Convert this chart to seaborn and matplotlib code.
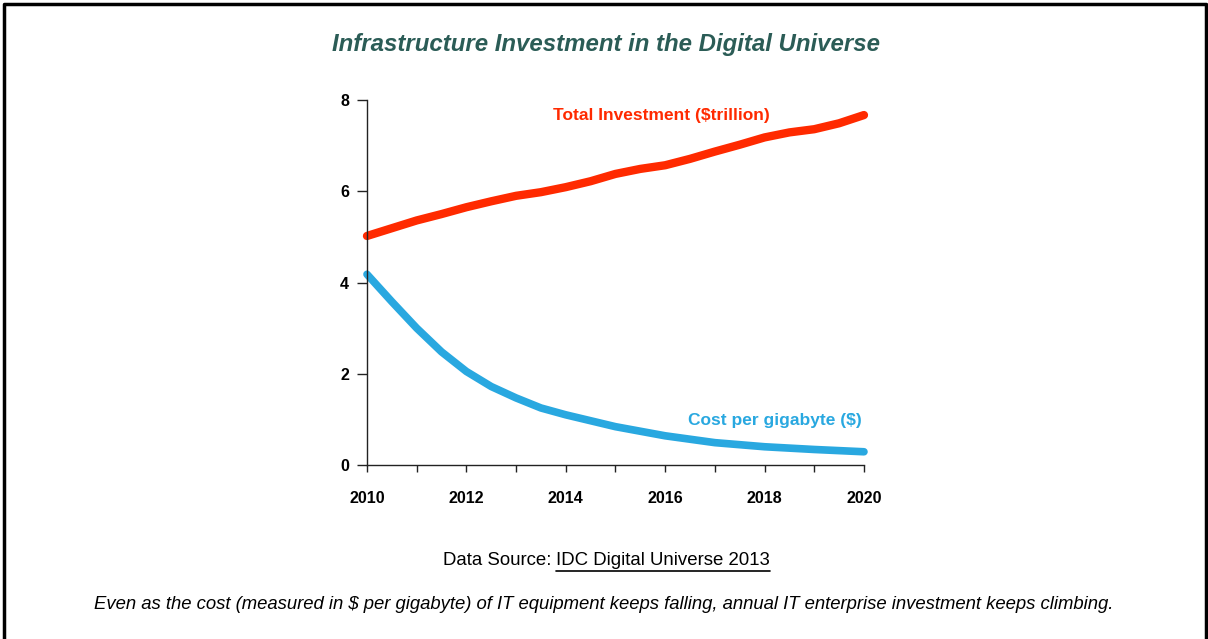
import numpy as np
import pandas as pd
import matplotlib.pyplot as plt
import seaborn as sns

years_total = [2010, 2010.5, 2011, 2011.5, 2012, 2012.5, 2013, 2013.5, 2014, 2014.5, 2015,
               2015.5, 2016, 2016.5, 2017, 2017.5, 2018, 2018.5, 2019, 2019.5, 2020]
total_investment = [5.02, 5.19, 5.36, 5.50, 5.65, 5.78, 5.90, 5.98, 6.09, 6.22, 6.38,
                    6.49, 6.57, 6.71, 6.87, 7.02, 7.18, 7.29, 7.36, 7.49, 7.67]

years_cost = [2010, 2010.5, 2011, 2011.5, 2012, 2012.5, 2013, 2013.5, 2014,
              2015, 2016, 2017, 2018, 2019, 2020]
cost_per_gb = [4.18, 3.58, 3.00, 2.48, 2.05, 1.72, 1.47, 1.25, 1.10,
               0.84, 0.64, 0.49, 0.40, 0.34, 0.29]

red = '#ff2a00'
blue = '#29a8e0'
title_color = '#2b5c56'

sns.set_style('white')
plt.rcParams['font.family'] = ['Liberation Sans', 'DejaVu Sans']
plt.rcParams['text.color'] = 'black'

fig = plt.figure(figsize=(12.08, 6.39), dpi=100)
ax = fig.add_axes([0.3038, 0.2723, 0.4114, 0.5712])

d_total = pd.DataFrame({'year': years_total, 'value': total_investment})
d_cost = pd.DataFrame({'year': years_cost, 'value': cost_per_gb})

sns.lineplot(data=d_total, x='year', y='value', ax=ax, color=red, linewidth=6,
             solid_capstyle='round', solid_joinstyle='round', clip_on=False)
sns.lineplot(data=d_cost, x='year', y='value', ax=ax, color=blue, linewidth=5.5,
             solid_capstyle='round', solid_joinstyle='round', clip_on=False)

ax.set_xlim(2010, 2020)
ax.set_ylim(0, 8)
ax.set_xticks(range(2010, 2021))
ax.set_xticklabels([str(y) if y % 2 == 0 else '' for y in range(2010, 2021)])
ax.set_yticks([0, 2, 4, 6, 8])
ax.set_xlabel('')
ax.set_ylabel('')
for s in ['top', 'right']:
    ax.spines[s].set_visible(False)
for s in ['left', 'bottom']:
    ax.spines[s].set_color('#222222')
    ax.spines[s].set_linewidth(1.0)
ax.tick_params(axis='x', bottom=True, direction='out', length=5, width=1, color='#222222',
               pad=14, labelsize=11.5, labelcolor='black')
ax.tick_params(axis='y', left=True, direction='out', length=7, width=1, color='#222222',
               pad=6, labelsize=11.5, labelcolor='black')
for lab in ax.get_xticklabels() + ax.get_yticklabels():
    lab.set_fontweight('bold')

ax.text(2015.92, 7.65, 'Total Investment ($trillion)', color=red, fontsize=12.5,
        fontweight='bold', ha='center', va='center')
ax.text(2019.95, 0.98, 'Cost per gigabyte ($)', color=blue, fontsize=12.5,
        fontweight='bold', ha='right', va='center')

fig.text(0.5015, 0.931, 'Infrastructure Investment in the Digital Universe', color=title_color,
         fontsize=17.3, fontweight='bold', fontstyle='italic', ha='center', va='center')

t1 = fig.text(0.4604, 0.123, 'Data Source: ', fontsize=13.4, ha='right', va='center')
t2 = fig.text(0.4604, 0.123, 'IDC Digital Universe 2013', fontsize=13.4, ha='left', va='center')
fig.canvas.draw()
bb = t2.get_window_extent()
fig.add_artist(plt.Line2D([bb.x0 / 1208, bb.x1 / 1208], [(bb.y0 - 2) / 639, (bb.y0 - 2) / 639],
                          color='black', linewidth=1.2))

fig.text(0.5, 0.054, 'Even as the cost (measured in $ per gigabyte) of IT equipment keeps falling, '
         'annual IT enterprise investment keeps climbing.', fontsize=13.3, fontstyle='italic',
         ha='center', va='center')

# frame on left, top and right
fig.add_artist(plt.Line2D([0.0033, 0.0033, 0.9983, 0.9983], [-0.1, 0.9945, 0.9945, -0.1],
                          color='black', linewidth=2.5))

fig.savefig('out.png', dpi=100)
